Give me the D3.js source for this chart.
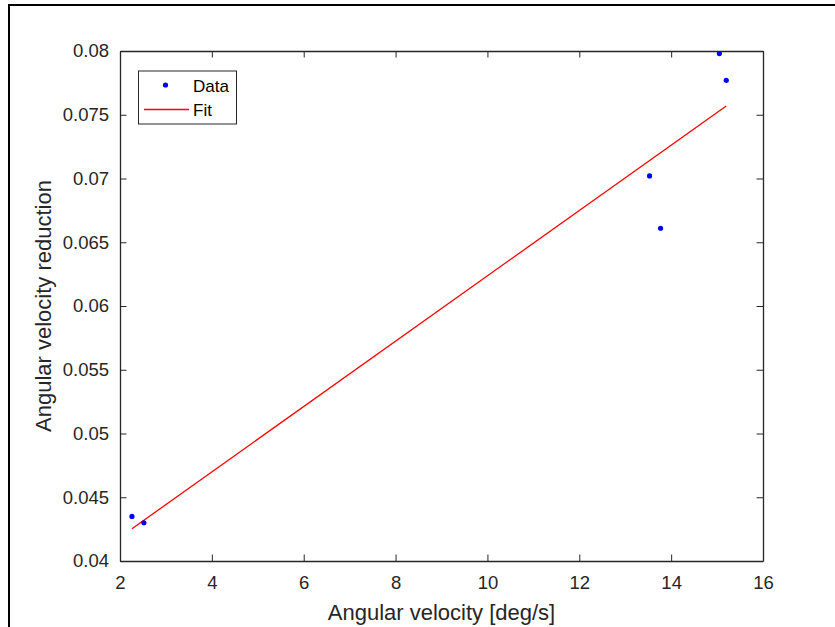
<!DOCTYPE html>
<html>
<head>
<meta charset="utf-8">
<script src="https://cdn.jsdelivr.net/npm/d3@7.9.0/dist/d3.min.js"></script>
<style>
  body { margin: 0; background: #fff; }
  text { font-family: "Liberation Sans", Arial, Helvetica, sans-serif; }
</style>
</head>
<body>
<script>
// measured data points
const dataX = [2.26, 2.52, 13.53, 13.77, 15.05, 15.20];
const dataY = [0.0435, 0.0430, 0.0702, 0.0661, 0.0798, 0.0777];
// linear fit endpoints (over the data range)
const fitX = [2.26, 15.20];
const fitY = [0.04253, 0.07569];
const xTicks = [2, 4, 6, 8, 10, 12, 14, 16];
const yTicks = [0.04, 0.045, 0.05, 0.055, 0.06, 0.065, 0.07, 0.075, 0.08];
const legendLabels = ["Data", "Fit"];

const width = 835, height = 627;
const margin = { top: 51, right: 72, bottom: 66, left: 120 };
const ink = "#262626";

const svg = d3.select("body").append("svg").attr("width", width).attr("height", height);

// figure frame
svg.append("path")
    .attr("d", `M9,${height + 2} V5 H${width + 2}`)
    .attr("fill", "none")
    .attr("stroke", "#000")
    .attr("stroke-width", 2);

const x = d3.scaleLinear().domain([2, 16]).range([margin.left, width - margin.right]);
const y = d3.scaleLinear().domain([0.04, 0.08]).range([height - margin.bottom, margin.top]);

const tickLen = 6.5;
const styleAxis = g => {
    g.select(".domain").attr("stroke", ink);
    g.selectAll(".tick line").attr("stroke", ink);
    g.selectAll(".tick text").attr("fill", ink).style("font-size", "18.5px")
        .style("font-family", '"Liberation Sans", Arial, sans-serif');
};

// bottom and top
svg.append("g").attr("transform", `translate(0,${y.range()[0]})`)
    .call(d3.axisBottom(x).tickValues(xTicks).tickSizeInner(-tickLen).tickSizeOuter(0).tickPadding(15).tickFormat(d3.format("d")))
    .call(styleAxis);
svg.append("g").attr("transform", `translate(0,${margin.top})`)
    .call(d3.axisTop(x).tickValues(xTicks).tickSizeInner(-tickLen).tickSizeOuter(0).tickFormat(""))
    .call(styleAxis);
// left and right
svg.append("g").attr("transform", `translate(${margin.left},0)`)
    .call(d3.axisLeft(y).tickValues(yTicks).tickSizeInner(-tickLen).tickSizeOuter(0).tickPadding(11).tickFormat(d => d3.format("")(+d.toFixed(3))))
    .call(styleAxis);
svg.append("g").attr("transform", `translate(${width - margin.right},0)`)
    .call(d3.axisRight(y).tickValues(yTicks).tickSizeInner(-tickLen).tickSizeOuter(0).tickFormat(""))
    .call(styleAxis);
svg.selectAll(".domain").attr("stroke-width", 1.3);

// fit line
const fitData = fitX.map((v, i) => [v, fitY[i]]);
svg.append("path")
    .datum(fitData)
    .attr("d", d3.line().x(d => x(d[0])).y(d => y(d[1])))
    .attr("fill", "none")
    .attr("stroke", "#ff0000")
    .attr("stroke-width", 1.3);

// data points
svg.selectAll("circle.pt")
    .data(dataX.map((v, i) => [v, dataY[i]]))
    .enter().append("circle")
    .attr("class", "pt")
    .attr("cx", d => x(d[0]))
    .attr("cy", d => y(d[1]))
    .attr("r", 2.6)
    .attr("fill", "#0000ff");

// axis labels
svg.append("text")
    .attr("x", (x.range()[0] + x.range()[1]) / 2)
    .attr("y", 620)
    .attr("text-anchor", "middle")
    .attr("fill", ink)
    .style("font-size", "22px")
    .text("Angular velocity [deg/s]");

svg.append("text")
    .attr("transform", `translate(51,${(y.range()[0] + y.range()[1]) / 2}) rotate(-90)`)
    .attr("text-anchor", "middle")
    .attr("fill", ink)
    .style("font-size", "22px")
    .text("Angular velocity reduction");

// legend
const legend = svg.append("g");
legend.append("rect")
    .attr("x", 138.5).attr("y", 71)
    .attr("width", 98).attr("height", 53)
    .attr("fill", "#fff")
    .attr("stroke", ink)
    .attr("stroke-width", 1);
legend.append("circle")
    .attr("cx", 165.5).attr("cy", 85).attr("r", 2.6).attr("fill", "#0000ff");
legend.append("line")
    .attr("x1", 144).attr("x2", 189).attr("y1", 109.5).attr("y2", 109.5)
    .attr("stroke", "#ff0000").attr("stroke-width", 1.3);
legend.selectAll("text.lg")
    .data(legendLabels)
    .enter().append("text")
    .attr("class", "lg")
    .attr("x", 193)
    .attr("y", (d, i) => 91.5 + i * 24)
    .attr("fill", "#000")
    .style("font-size", "17px")
    .text(d => d);
</script>
</body>
</html>
